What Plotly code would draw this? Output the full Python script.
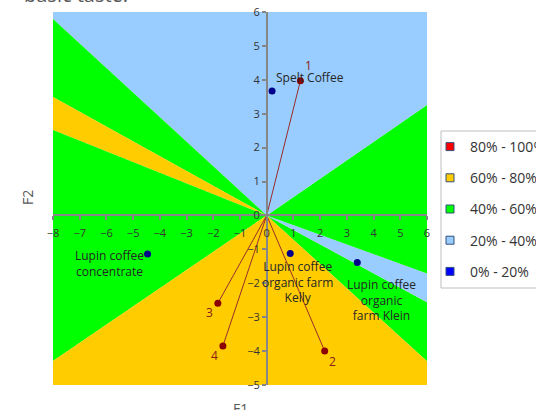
import math
import plotly.graph_objects as go

# ---- data -------------------------------------------------------------
# Products positioned on the first two factors
product_names = ["Spelt Coffee", "Lupin coffee<br>concentrate",
                 "Lupin coffee<br>organic farm<br>Kelly", "Lupin coffee<br>organic<br>farm Klein"]
product_f1 = [0.20, -4.46, 0.88, 3.39]
product_f2 = [3.67, -1.14, -1.12, -1.39]

# Consumer preference vectors
judge_names = ["1", "2", "3", "4"]
judge_f1 = [1.26, 2.17, -1.83, -1.64]
judge_f2 = [3.97, -4.00, -2.59, -3.85]

# Share-of-consumers classes
class_names = ["80% - 100%", "60% - 80%", "40% - 60%", "20% - 40%", "0% - 20%"]
class_colors = ["#FF0000", "#FFCC00", "#00FF00", "#99CCFF", "#0000FF"]

# Boundaries between classes: rays from the origin, given by where they meet the frame
boundary_f1 = [6, 6, 6, 6, -8, -8, -8, -8]
boundary_f2 = [-4.30, -2.56, -1.71, 3.26, 5.79, 3.49, 2.52, -4.29]
# class index of the sector that starts at each boundary (counter-clockwise)
sector_class = [2, 3, 2, 3, 2, 1, 2, 1]

x_range = [-8, 6]
y_range = [-5, 6]

# ---- styles -----------------------------------------------------------
FONT = "Open Sans"
AXIS_GREY = "#868686"
TEXT_DARK = "#262626"
JUDGE_RED = "#8B0000"
JUDGE_LINE = "#9B2D2D"
JUDGE_LABEL = "#8B1A1A"
PRODUCT_BLUE = "#00008B"

product_label_shift = [(38, 14), (-38, -9), (7, -29), (24, -37)]
judge_label_shift = [(8, 15), (8, -10), (-8, -9), (-8, -9)]

# plot area in pixels (left, top, right, bottom) of the 536x410 page
PLOT_L, PLOT_T, PLOT_R, PLOT_B = 53, 12, 427, 385
PLOT_W, PLOT_H = PLOT_R - PLOT_L, PLOT_B - PLOT_T


def px_x(p):
    return (p - PLOT_L) / PLOT_W


def px_y(p):
    return (PLOT_B - p) / PLOT_H


def frame_corners():
    return [(x_range[1], y_range[0]), (x_range[1], y_range[1]),
            (x_range[0], y_range[1]), (x_range[0], y_range[0])]


def sector_polygon(p_start, p_end):
    a0 = math.atan2(p_start[1], p_start[0])
    a1 = math.atan2(p_end[1], p_end[0])
    if a1 <= a0:
        a1 += 2 * math.pi
    inner = []
    for cx, cy in frame_corners():
        a = math.atan2(cy, cx)
        while a < a0:
            a += 2 * math.pi
        if a0 < a < a1:
            inner.append((a, (cx, cy)))
    inner.sort()
    pts = [(0, 0), p_start] + [p for _, p in inner] + [p_end, (0, 0)]
    return [p[0] for p in pts], [p[1] for p in pts]


fig = go.Figure()

# preference sectors
n = len(boundary_f1)
for i in range(n):
    p0 = (boundary_f1[i], boundary_f2[i])
    p1 = (boundary_f1[(i + 1) % n], boundary_f2[(i + 1) % n])
    xs, ys = sector_polygon(p0, p1)
    fig.add_trace(go.Scatter(x=xs, y=ys, mode="none", fill="toself",
                             fillcolor=class_colors[sector_class[i]],
                             showlegend=False, hoverinfo="skip"))

# legend entries for the classes
for name, col in zip(class_names, class_colors):
    fig.add_trace(go.Scatter(x=[None], y=[None], mode="markers", name=name,
                             legendgroup=name,
                             marker=dict(symbol="square", size=8, color=col,
                                         line=dict(color="#34507A", width=1))))

# judge vectors
for jx, jy in zip(judge_f1, judge_f2):
    fig.add_trace(go.Scatter(x=[0, jx], y=[0, jy], mode="lines",
                             line=dict(color=JUDGE_LINE, width=1),
                             showlegend=False, hoverinfo="skip"))
fig.add_trace(go.Scatter(x=judge_f1, y=judge_f2, mode="markers",
                         marker=dict(color=JUDGE_RED, size=7),
                         showlegend=False))

# products
fig.add_trace(go.Scatter(x=product_f1, y=product_f2, mode="markers",
                         marker=dict(color=PRODUCT_BLUE, size=7),
                         showlegend=False))

annotations = []
for name, px, py, (dx, dy) in zip(product_names, product_f1, product_f2, product_label_shift):
    annotations.append(dict(x=px, y=py, xref="x", yref="y", text=name, showarrow=False,
                            xshift=dx, yshift=dy, align="center",
                            font=dict(family=FONT, size=12, color=TEXT_DARK)))
for name, px, py, (dx, dy) in zip(judge_names, judge_f1, judge_f2, judge_label_shift):
    annotations.append(dict(x=px, y=py, xref="x", yref="y", text=name, showarrow=False,
                            xshift=dx, yshift=dy,
                            font=dict(family=FONT, size=12, color=JUDGE_LABEL)))

# title and axis titles
annotations.append(dict(x=px_x(22), y=1.005, xref="paper", yref="paper", text="basic taste.",
                        showarrow=False, xanchor="left", yanchor="bottom",
                        font=dict(family=FONT, size=20, color="#595959")))
annotations.append(dict(x=0.5, y=-0.032, xref="paper", yref="paper", text="F1",
                        showarrow=False, xanchor="center", yanchor="top",
                        font=dict(family=FONT, size=14, color="#595959")))
annotations.append(dict(x=px_x(27), y=px_y(198), xref="paper", yref="paper", text="F2",
                        showarrow=False, textangle=-90, xanchor="center", yanchor="middle",
                        font=dict(family=FONT, size=14, color="#595959")))

# legend frame
shapes = [dict(type="rect", xref="paper", yref="paper",
               x0=px_x(441), x1=px_x(560), y0=px_y(288), y1=px_y(131),
               line=dict(color="#BFBFBF", width=1), fillcolor="white", layer="above")]

x_pos = (0 - y_range[0]) / (y_range[1] - y_range[0])
y_pos = (0 - x_range[0]) / (x_range[1] - x_range[0])

axis_common = dict(showgrid=False, zeroline=False, dtick=1, tick0=0,
                   tickcolor=AXIS_GREY, tickwidth=1.5, ticklen=4, fixedrange=True,
                   tickfont=dict(family=FONT, size=11, color="#333333"))

fig.update_layout(
    width=536, height=410,
    margin=dict(l=PLOT_L, r=536 - PLOT_R, t=PLOT_T, b=410 - PLOT_B, autoexpand=False),
    paper_bgcolor="white", plot_bgcolor="white",
    xaxis=dict(range=x_range, anchor="free", position=x_pos, showline=True,
               linecolor=AXIS_GREY, linewidth=1.5, ticks="outside",
               ticklabelstandoff=4, **axis_common),
    yaxis=dict(range=y_range, anchor="free", position=y_pos, showline=True,
               linecolor=AXIS_GREY, linewidth=1.5, ticks="outside", **axis_common),
    xaxis2=dict(range=x_range, overlaying="x", anchor="free", position=x_pos,
                ticks="inside", showticklabels=False, showline=False, **axis_common),
    yaxis2=dict(range=y_range, overlaying="y", anchor="free", position=y_pos,
                ticks="inside", showticklabels=False, showline=False, **axis_common),
    legend=dict(x=px_x(430), xanchor="left", y=px_y(131), yanchor="top",
                borderwidth=0, bgcolor="rgba(0,0,0,0)",
                traceorder="grouped", tracegroupgap=10,
                font=dict(family=FONT, size=14, color="#333333")),
    shapes=shapes,
    annotations=annotations,
    showlegend=True,
)

fig.write_html("out.html")
